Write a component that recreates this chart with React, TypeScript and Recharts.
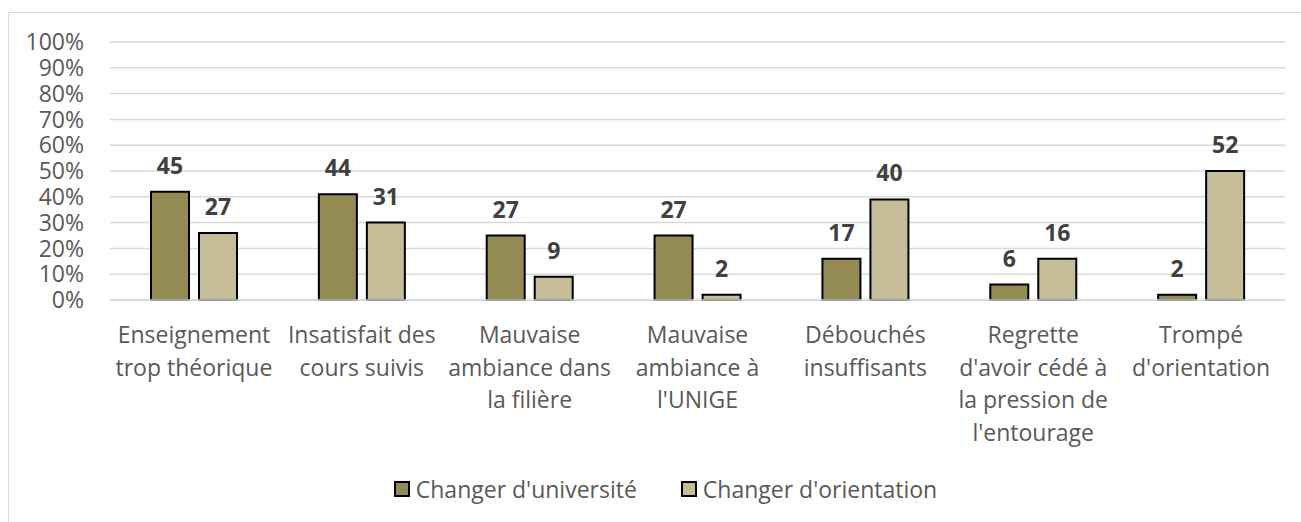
import { BarChart, Bar, XAxis, YAxis, CartesianGrid, LabelList } from 'recharts';

const categories = [
  'Enseignement\ntrop théorique',
  'Insatisfait des\ncours suivis',
  'Mauvaise\nambiance dans\nla filière',
  'Mauvaise\nambiance à\nl\'UNIGE',
  'Débouchés\ninsuffisants',
  'Regrette\nd\'avoir cédé à\nla pression de\nl\'entourage',
  'Trompé\nd\'orientation',
];

const seriesNames = ["Changer d'université", "Changer d'orientation"];

// bar heights as drawn (%), and the labels printed above them
const universiteValues = [42, 41, 25, 25, 16, 6, 2];
const orientationValues = [26, 30, 9, 2, 39, 16, 50];
const universiteLabels = [45, 44, 27, 27, 17, 6, 2];
const orientationLabels = [27, 31, 9, 2, 40, 16, 52];

const yTicks = [0, 10, 20, 30, 40, 50, 60, 70, 80, 90, 100];

const colors = ['#948A54', '#C4BD97'];
const FONT = "'Open Sans', sans-serif";

const chartData = categories.map((name, i) => ({
  name,
  universite: universiteValues[i],
  orientation: orientationValues[i],
  universiteLabel: universiteLabels[i],
  orientationLabel: orientationLabels[i],
}));

const CategoryTick = (props: any) => {
  const { x, y, payload } = props;
  const lines = String(payload.value).split('\n');
  return (
    <text x={x} y={y} textAnchor="middle" fill="#595959" fontSize={23} fontFamily={FONT}>
      {lines.map((line, i) => (
        <tspan key={i} x={x} y={y + 35 + i * 32.7} dy="0.35em">
          {line}
        </tspan>
      ))}
    </text>
  );
};

const ValueLabel = (props: any) => {
  const { x, y, width, value } = props;
  return (
    <text
      x={x + width / 2}
      y={y - 26}
      dy="0.35em"
      textAnchor="middle"
      fill="#404040"
      fontSize={23}
      fontWeight={700}
      fontFamily={FONT}
    >
      {value}
    </text>
  );
};

export default function App() {
  return (
    <div style={{ position: 'absolute', left: 0, top: 0, width: 1301, height: 522, background: '#fff', overflow: 'hidden' }}>
      <div
        style={{
          position: 'absolute',
          left: 8,
          top: 12,
          width: 1293,
          height: 510,
          borderLeft: '1.5px solid #d9d9d9',
          borderTop: '1.5px solid #d9d9d9',
          boxSizing: 'border-box',
        }}
      />
      <div style={{ position: 'absolute', left: 0, top: 0 }}>
        <BarChart
          width={1301}
          height={522}
          data={chartData}
          margin={{ top: 42, right: 16, left: 0, bottom: 102 }}
          barSize={38}
          barGap={10}
        >
          <CartesianGrid vertical={false} stroke="#d9d9d9" strokeWidth={1.5} />
          <XAxis
            dataKey="name"
            interval={0}
            height={120}
            tickLine={false}
            tickSize={0}
            tickMargin={0}
            axisLine={{ stroke: '#d9d9d9', strokeWidth: 1.5 }}
            tick={<CategoryTick />}
          />
          <YAxis
            width={110}
            domain={[0, 100]}
            ticks={yTicks}
            interval={0}
            axisLine={false}
            tickLine={false}
            tickSize={0}
            tickMargin={26}
            tickFormatter={(v: number) => `${v}%`}
            tick={{ fill: '#595959', fontSize: 23, fontFamily: FONT }}
          />
          <Bar dataKey="universite" fill={colors[0]} stroke="#000" strokeWidth={2} isAnimationActive={false}>
            <LabelList dataKey="universiteLabel" content={<ValueLabel />} />
          </Bar>
          <Bar dataKey="orientation" fill={colors[1]} stroke="#000" strokeWidth={2} isAnimationActive={false}>
            <LabelList dataKey="orientationLabel" content={<ValueLabel />} />
          </Bar>
        </BarChart>
      </div>
      <div
        style={{
          position: 'absolute',
          left: 30,
          top: 473,
          width: 1271,
          height: 32,
          display: 'flex',
          justifyContent: 'center',
          alignItems: 'center',
          gap: 44,
          fontFamily: FONT,
          fontSize: 23,
          color: '#595959',
        }}
      >
        {seriesNames.map((n, i) => (
          <div key={n} style={{ display: 'flex', alignItems: 'center', gap: 6 }}>
            <span
              style={{
                display: 'inline-block',
                width: 16,
                height: 16,
                boxSizing: 'border-box',
                background: colors[i],
                border: '2px solid #000',
              }}
            />
            <span style={{ lineHeight: '32px', whiteSpace: 'nowrap' }}>{n}</span>
          </div>
        ))}
      </div>
    </div>
  );
}
